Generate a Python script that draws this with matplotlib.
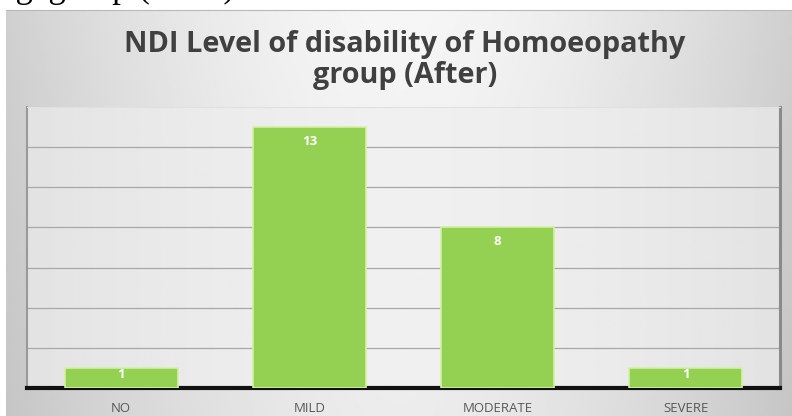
import numpy as np
import matplotlib
matplotlib.use("Agg")
import matplotlib.pyplot as plt

categories = ["NO", "MILD", "MODERATE", "SEVERE"]
values = [1, 13, 8, 1]
title = "NDI Level of disability of Homoeopathy\ngroup (After)"
header_text = "egagroup (After)."

W, H = 792, 416
fig = plt.figure(figsize=(W / 100, H / 100), dpi=100)
fig.patch.set_facecolor("white")

# chart background frame with gradient
bg = fig.add_axes([6 / W, 0, (W - 6) / W, (H - 10) / H], zorder=0)
x = np.linspace(-1, 1, 400)
y = np.linspace(-1, 1, 200)
X, Y = np.meshgrid(x, y)
G = 0.965 - 0.15 * (np.abs(X) ** 1.6) - 0.04 * (Y + 1) / 2
bg.imshow(G, cmap="gray", vmin=0, vmax=1, aspect="auto", extent=[0, 1, 0, 1])
bg.set_xlim(0, 1); bg.set_ylim(0, 1)
for s in bg.spines.values():
    s.set_visible(False)
bg.spines["top"].set_visible(True)
bg.spines["top"].set_color("#b8b8b8")
bg.set_xticks([]); bg.set_yticks([])

# clipped header text from surrounding document
fig.text(0.0, 1 + 3 / H, header_text, fontsize=25, family="Liberation Serif",
         color="black", va="baseline", ha="left")

fig.text(405 / W, 1 - 60 / H, title, ha="center", va="center", fontsize=20.8,
         fontweight="bold", family="Open Sans", color="#404040", linespacing=1.1)

L, R, T, B = 27, 780, 107, 388
ax = fig.add_axes([L / W, (H - B) / H, (R - L) / W, (B - T) / H], zorder=2)
ax.set_facecolor("none")
# plot area gradient
xx = np.linspace(-1, 1, 300)
GG = 0.94 - 0.05 * np.abs(xx) ** 1.5
ax.imshow(GG[None, :], cmap="gray", vmin=0, vmax=1, aspect="auto",
          extent=[-0.5, 3.5, 0, 14], zorder=0)

ax.set_xlim(-0.5, 3.5)
ax.set_ylim(0, 14)
ax.set_yticks(np.arange(2, 14, 2))
ax.yaxis.grid(True, color="#a8a8a8", lw=0.9)
ax.set_axisbelow(True)
ax.tick_params(axis="y", left=False, labelleft=False)
ax.tick_params(axis="x", bottom=False, pad=6.5, labelsize=9.5, labelcolor="#595959")

bars = ax.bar(range(len(categories)), values, width=0.6, color="#94d152",
              edgecolor="#d6efa5", linewidth=1.2, zorder=3)
ax.set_xticks(range(len(categories)))
ax.set_xticklabels(categories, family="Open Sans")

for i, v in enumerate(values):
    if v >= 4:
        yy = v - 0.72
    else:
        yy = v * 0.65
    ax.text(i, yy, str(v), ha="center", va="center", color="white",
            fontsize=9.5, fontweight="bold", family="Open Sans", zorder=4)

ax.spines["top"].set_color("#e0e0e0")
ax.spines["left"].set_color("#9a9a9a")
ax.spines["left"].set_linewidth(1.5)
ax.spines["right"].set_color("#8a8a8a")
ax.spines["right"].set_linewidth(2.2)
ax.spines["bottom"].set_color("#111111")
ax.spines["bottom"].set_linewidth(3.0)

fig.savefig("out.png", dpi=100)
